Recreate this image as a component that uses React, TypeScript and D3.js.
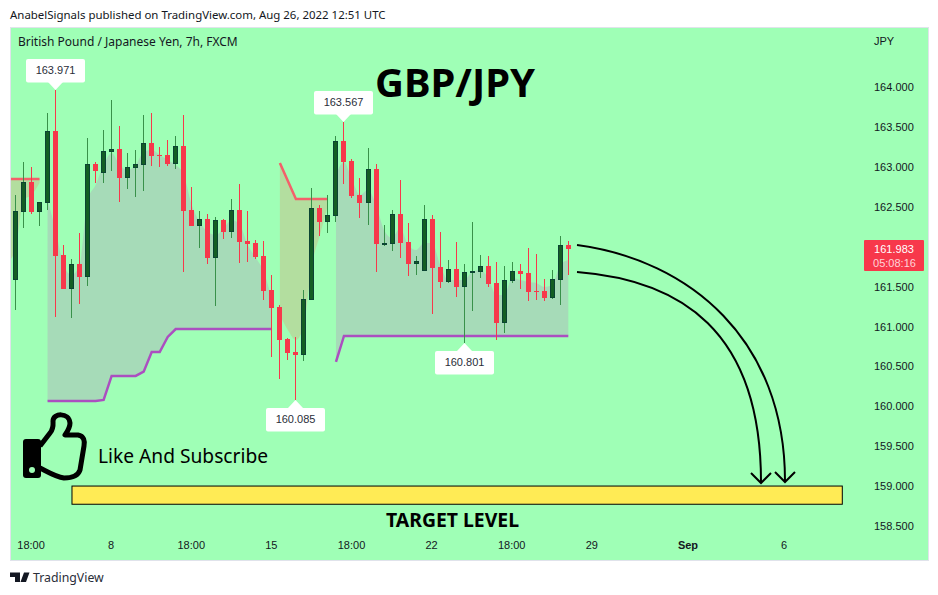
import { useEffect, useRef } from 'react';
import * as d3 from 'd3';

const width = 938;
const height = 595;

// one 7h candle per slot
const opens = [
  161.589, 162.441, 162.816, 162.441, 162.554, 163.455, 161.902, 161.476, 161.789, 161.627,
  163.042, 162.929, 163.192, 163.23, 162.867, 162.992, 163.029, 163.305, 163.155, 163.155,
  163.042, 163.267, 162.466, 162.265, 162.353, 161.865, 162.341, 162.19, 162.466, 162.078,
  162.053, 161.89, 161.464, 161.251, 160.85, 160.687, 160.65, 161.339, 162.491, 162.316,
  162.391, 163.33, 163.08, 162.654, 162.554, 162.979, 162.04, 162.04, 162.416, 162.065,
  161.789, 161.702, 162.353, 161.752, 161.564, 161.727, 161.501, 161.677, 161.689, 161.764,
  161.552, 161.05, 161.577, 161.702, 161.677, 161.451, 161.451, 161.364, 161.589, 162.027,
];
const highs = [
  162.654, 163.067, 163.004, 162.566, 163.681, 163.971, 162.027, 161.852, 162.178, 163.368,
  163.067, 163.468, 163.844, 163.518, 163.18, 163.217, 163.656, 163.681, 163.255, 163.343,
  163.393, 163.656, 162.754, 162.453, 162.416, 162.378, 162.353, 162.604, 162.791, 162.453,
  162.09, 162.078, 161.652, 161.276, 160.863, 160.875, 161.464, 162.741, 162.528, 162.654,
  163.393, 163.567, 163.105, 162.867, 163.242, 163.042, 162.278, 162.466, 162.842, 162.303,
  161.89, 162.528, 162.403, 162.19, 161.84, 162.065, 161.789, 162.316, 161.902, 161.89,
  161.815, 161.764, 161.815, 161.789, 161.99, 161.915, 161.602, 161.714, 162.14, 162.078,
];
const lows = [
  161.213, 162.24, 162.416, 162.265, 162.466, 161.125, 161.476, 161.113, 161.288, 161.514,
  162.804, 162.804, 162.954, 162.566, 162.729, 162.629, 162.704, 163.017, 163.004, 163.017,
  162.979, 161.689, 162.265, 161.99, 161.789, 161.263, 162.103, 162.115, 161.802, 161.815,
  161.852, 161.339, 160.625, 160.349, 160.587, 160.085, 160.575, 161.339, 162.14, 162.178,
  162.316, 162.791, 162.616, 162.366, 162.278, 161.689, 162.015, 161.952, 161.865, 161.639,
  161.652, 161.702, 161.163, 161.489, 161.552, 161.376, 160.801, 161.201, 161.614, 161.501,
  160.837, 160.925, 161.552, 161.476, 161.326, 161.339, 161.326, 161.351, 161.276, 161.652,
];
const closes = [
  162.453, 162.816, 162.441, 162.566, 163.455, 161.89, 161.476, 161.789, 161.627, 163.042,
  162.954, 163.205, 163.23, 162.867, 163.004, 163.042, 163.305, 163.142, 163.142, 163.042,
  163.267, 162.453, 162.265, 162.353, 161.865, 162.341, 162.19, 162.466, 162.065, 162.04,
  161.877, 161.451, 161.238, 160.837, 160.675, 160.65, 161.351, 162.491, 162.316, 162.403,
  163.33, 163.067, 162.641, 162.554, 162.979, 162.04, 162.053, 162.416, 162.053, 161.789,
  161.827, 162.353, 161.739, 161.564, 161.727, 161.501, 161.689, 161.702, 161.764, 161.539,
  161.05, 161.589, 161.702, 161.664, 161.439, 161.439, 161.364, 161.602, 162.027, 161.983,
];

// supertrend legs: first candle index, stop line, and the edge the band fills up to
const downStart1 = -1;
const downStop1 = [162.854, 162.854, 162.854, 162.854, 162.854];
const downEdge1 = [161.815, 161.965, 162.591, 162.654, 162.804];

const upStart1 = 4;
const upStop1 = [
  160.073, 160.073, 160.073, 160.073, 160.073, 160.073, 160.073, 160.086, 160.387, 160.387,
  160.387, 160.387, 160.44, 160.687, 160.687, 160.875, 160.975, 160.975, 160.975, 160.975,
  160.975, 160.975, 160.975, 160.975, 160.975, 160.975, 160.975, 160.975, 160.975,
];
const upEdge1 = [
  162.591, 162.216, 161.777, 161.652, 161.777, 162.591, 162.779, 163.029, 163.18, 163.029,
  162.967, 163.029, 163.192, 163.217, 163.155, 163.092, 163.029, 162.904, 162.528, 162.316,
  162.19, 162.153, 162.24, 162.341, 162.278, 162.027, 161.865, 161.689, 161.339,
];

const downStart2 = 33;
const downStop2 = [163.054, 162.829, 162.604, 162.604, 162.604, 162.604, 162.604];
const downEdge2 = [161.151, 160.963, 160.837, 161.025, 161.777, 162.153, 162.528];

const upStart2 = 40;
const upStop2 = [
  160.562, 160.888, 160.888, 160.888, 160.888, 160.888, 160.888, 160.888, 160.888, 160.888,
  160.888, 160.888, 160.888, 160.888, 160.888, 160.888, 160.888, 160.888, 160.888, 160.888,
  160.888, 160.888, 160.888, 160.888, 160.888, 160.888, 160.888, 160.888, 160.888, 160.888,
];
const upEdge2 = [
  162.904, 163.067, 162.842, 162.654, 162.716, 162.528, 162.215, 162.115, 162.24, 162.027,
  161.965, 162.052, 162.052, 161.777, 161.589, 161.589, 161.589, 161.689, 161.714, 161.614,
  161.401, 161.401, 161.614, 161.589, 161.564, 161.552, 161.501, 161.526, 161.777, 161.84,
];

// 162.000 sits behind the last price tag
const priceTicks = [158.5, 159, 159.5, 160, 160.5, 161, 161.5, 162.5, 163, 163.5, 164];
const timeTickSlots = [2, 12, 22, 32, 42, 52, 62, 72, 84, 96];
const timeTickLabels = ['18:00', '8', '18:00', '15', '18:00', '22', '18:00', '29', 'Sep', '6'];

// high/low callouts
const calloutSlots = [5, 35, 41, 56];
const calloutPrices = [163.971, 160.085, 163.567, 160.801];
const calloutAbove = [true, false, true, false];

const targetSlots = [7.05, 103.2];
const targetPrices = [159.008, 158.78];

const lastPrice = '161.983';
const countdown = '05:08:16';

const BG = '#9FFFB6';
const RED = '#F7384B';
const GREEN_BODY = '#145E24';
const GREEN_EDGE = '#0B4433';
const GREEN_WICK = '#39914A';
const UP_FILL = '#A6DBB8';
const DOWN_FILL = '#B3DE9F';
const STOP_RED = '#F4606A';
const STOP_PURPLE = '#AB4FC0';
const FONT = '"Liberation Sans", Arial, sans-serif';
const NOTO = '"Noto Sans", sans-serif';

const App = () => {
  const ref = useRef<SVGSVGElement>(null);

  useEffect(() => {
    if (!ref.current) return;
    const svg = d3.select(ref.current);
    svg.selectAll('*').remove();

    const x = d3.scaleLinear().domain([0, 69]).range([15.5, 568.3]);
    const y = d3.scaleLinear().domain([158.5, 164]).range([526.6, 87.5]);

    svg.append('rect').attr('width', width).attr('height', height).attr('fill', '#fff');
    svg
      .append('rect')
      .attr('x', 10.5)
      .attr('y', 27.5)
      .attr('width', 918)
      .attr('height', 533)
      .attr('fill', BG)
      .attr('stroke', '#E0E3EB');

    svg
      .append('defs')
      .append('clipPath')
      .attr('id', 'pane')
      .append('rect')
      .attr('x', 11)
      .attr('y', 28)
      .attr('width', 917)
      .attr('height', 532);

    const plot = svg.append('g').attr('clip-path', 'url(#pane)');

    // supertrend bands
    const legs = [
      { start: downStart1, stop: downStop1, edge: downEdge1, fill: DOWN_FILL, line: STOP_RED },
      { start: upStart1, stop: upStop1, edge: upEdge1, fill: UP_FILL, line: STOP_PURPLE },
      { start: downStart2, stop: downStop2, edge: downEdge2, fill: DOWN_FILL, line: STOP_RED },
      { start: upStart2, stop: upStop2, edge: upEdge2, fill: UP_FILL, line: STOP_PURPLE },
    ];
    legs.forEach((leg) => {
      const area = d3
        .area<number>()
        .x((_, i) => x(leg.start + i))
        .y0((_, i) => y(leg.stop[i]))
        .y1((d) => y(d))
        .curve(d3.curveMonotoneX);
      plot.append('path').attr('d', area(leg.edge)).attr('fill', leg.fill);
    });
    legs.forEach((leg) => {
      const line = d3
        .line<number>()
        .x((_, i) => x(leg.start + i))
        .y((d) => y(d));
      plot
        .append('path')
        .attr('d', line(leg.stop))
        .attr('fill', 'none')
        .attr('stroke', leg.line)
        .attr('stroke-width', 2.5);
    });

    // candles
    const candles = plot.append('g').attr('shape-rendering', 'crispEdges');
    opens.forEach((open, i) => {
      const up = closes[i] >= open;
      const cx = Math.floor(x(i));
      candles
        .append('rect')
        .attr('x', cx)
        .attr('y', Math.round(y(highs[i])))
        .attr('width', 1)
        .attr('height', Math.max(1, Math.round(y(lows[i])) - Math.round(y(highs[i]))))
        .attr('fill', up ? GREEN_WICK : RED);
      const top = Math.round(y(Math.max(open, closes[i])));
      const bottom = Math.round(y(Math.min(open, closes[i])));
      const body = candles.append('rect');
      if (up) {
        body
          .attr('x', cx - 1.5)
          .attr('y', top + 0.5)
          .attr('width', 4)
          .attr('height', Math.max(1, bottom - top - 1))
          .attr('fill', GREEN_BODY)
          .attr('stroke', GREEN_EDGE);
      } else {
        body
          .attr('x', cx - 2)
          .attr('y', top)
          .attr('width', 5)
          .attr('height', Math.max(1, bottom - top))
          .attr('fill', RED);
      }
    });

    // axes
    const yAxis = d3
      .axisRight(y)
      .tickValues(priceTicks)
      .tickSize(0)
      .tickPadding(0)
      .tickFormat(d3.format('.3f') as any);
    const yg = svg.append('g').attr('transform', 'translate(874,-0.5)').call(yAxis);
    yg.select('.domain').remove();
    yg.selectAll('text').attr('font-family', FONT).attr('font-size', 11).attr('fill', '#131722');

    const xAxis = d3
      .axisBottom(x)
      .tickValues(timeTickSlots)
      .tickSize(0)
      .tickPadding(0)
      .tickFormat((_, i) => timeTickLabels[i]);
    const xg = svg.append('g').attr('transform', 'translate(-1,541.5)').call(xAxis);
    xg.select('.domain').remove();
    xg.selectAll('text')
      .attr('font-family', FONT)
      .attr('font-size', 11)
      .attr('fill', '#131722')
      .attr('font-weight', (_, i) => (timeTickLabels[i] === 'Sep' ? 'bold' : 'normal'));

    // callouts
    calloutSlots.forEach((slot, i) => {
      const px = Math.floor(x(slot)) + 0.5;
      const py = y(calloutPrices[i]);
      const dir = calloutAbove[i] ? -1 : 1;
      const g = svg.append('g').attr('transform', `translate(${px},${Math.round(py)})`);
      g.append('path')
        .attr('d', `M-8,${dir * 8.5} L0,0 L8,${dir * 8.5} Z`)
        .attr('fill', '#fff');
      g.append('rect')
        .attr('x', -29.5)
        .attr('y', calloutAbove[i] ? -31 : 8)
        .attr('width', 59)
        .attr('height', 23.5)
        .attr('rx', 2)
        .attr('fill', '#fff');
      g.append('text')
        .attr('y', calloutAbove[i] ? -19.5 : 19.5)
        .attr('dy', '0.35em')
        .attr('text-anchor', 'middle')
        .attr('font-family', FONT)
        .attr('font-size', 11)
        .attr('fill', '#2A2E39')
        .text(d3.format('.3f')(calloutPrices[i]));
    });

    // last price tag
    svg.append('rect').attr('x', 864).attr('y', 240).attr('width', 60).attr('height', 31).attr('rx', 1).attr('fill', RED);
    svg
      .append('text')
      .attr('x', 894)
      .attr('y', 253)
      .attr('text-anchor', 'middle')
      .attr('font-family', FONT)
      .attr('font-size', 11)
      .attr('fill', '#fff')
      .text(lastPrice);
    svg
      .append('text')
      .attr('x', 894.5)
      .attr('y', 266.8)
      .attr('text-anchor', 'middle')
      .attr('font-family', FONT)
      .attr('font-size', 11)
      .attr('fill', '#FFD3D8')
      .text(countdown);

    // target box
    svg
      .append('rect')
      .attr('x', x(targetSlots[0]))
      .attr('y', y(targetPrices[0]))
      .attr('width', x(targetSlots[1]) - x(targetSlots[0]))
      .attr('height', y(targetPrices[1]) - y(targetPrices[0]))
      .attr('fill', '#FFEB55')
      .attr('stroke', '#000')
      .attr('stroke-width', 1);

    // hand drawn arrows
    const arrows = [
      { d: 'M577,245 C690,260 785,340 785,481', head: 'M775,472 L785,482 L795,472' },
      { d: 'M577,272 C680,280 761,330 761,482', head: 'M751,473 L761,483 L771,473' },
    ];
    arrows.forEach((a) => {
      svg.append('path').attr('d', a.d).attr('fill', 'none').attr('stroke', '#000').attr('stroke-width', 2);
      svg.append('path').attr('d', a.head).attr('fill', 'none').attr('stroke', '#000').attr('stroke-width', 2);
    });

    // thumbs up
    svg
      .append('path')
      .attr(
        'd',
        'M40,446 L50,433 C54,428 53,423 53,421 C53,413 69,412 70,423 C70,428 67,432 65,435 L78,435 C84,436 85,441 84,446 L80,470 C78,476 72,478 64,478 C56,477 48,472 40,468',
      )
      .attr('fill', BG)
      .attr('stroke', '#000')
      .attr('stroke-width', 5)
      .attr('stroke-linejoin', 'round');
    svg.append('rect').attr('x', 23).attr('y', 439).attr('width', 18).attr('height', 39).attr('rx', 3).attr('fill', '#000');
    svg.append('circle').attr('cx', 32).attr('cy', 470).attr('r', 3).attr('fill', BG);

    // texts
    const label = (
      tx: number,
      ty: number,
      text: string,
      size: number,
      family: string,
      weight = 'normal',
      anchor = 'start',
      fill = '#131722',
    ) =>
      svg
        .append('text')
        .attr('x', tx)
        .attr('y', ty)
        .attr('font-size', size)
        .attr('font-family', family)
        .attr('font-weight', weight)
        .attr('text-anchor', anchor)
        .attr('fill', fill)
        .text(text);

    label(10, 19, 'AnabelSignals published on TradingView.com, Aug 26, 2022 12:51 UTC', 11.45, NOTO);
    label(18, 46, 'British Pound / Japanese Yen, 7h, FXCM', 12, NOTO);
    label(874, 44.5, 'JPY', 11, FONT);
    label(455, 97, 'GBP/JPY', 40, NOTO, 'bold', 'middle', '#000');
    label(98, 463, 'Like And Subscribe', 19.2, NOTO, 'normal', 'start', '#000');
    label(452.5, 526.7, 'TARGET LEVEL', 19.4, NOTO, 'bold', 'middle', '#000');
    label(33, 582, 'TradingView', 12.3, NOTO, 'normal', 'start', '#2A2E39');

    // logo
    svg.append('path').attr('d', 'M10,572.5 H20 V582 H15 V577 H10 Z M24,572.5 H29.5 L26,582 H20.5 Z').attr('fill', '#131722');
  }, []);

  return (
    <svg
      ref={ref}
      width={width}
      height={height}
      style={{ position: 'absolute', left: 0, top: 0 }}
    />
  );
};

export default App;
